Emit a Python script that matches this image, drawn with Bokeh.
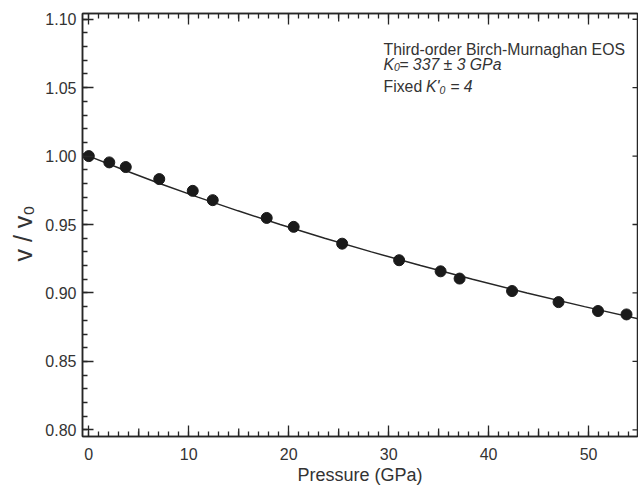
from bokeh.plotting import figure
from bokeh.models import LinearAxis, FixedTicker, Range1d, CustomJSTickFormatter, Title
from bokeh.core.properties import value
from bokeh.embed import file_html
from bokeh.resources import INLINE
import math

# measured data points
pressure = [0.0, 2.05, 3.7, 7.05, 10.4, 12.4, 17.8, 20.5, 25.35, 31.05, 35.2, 37.1, 42.35, 47.0, 50.95, 53.8]
volume = [1.000, 0.9954, 0.992, 0.9832, 0.9746, 0.9678, 0.9548, 0.9483, 0.936, 0.9239,
          0.9158, 0.9105, 0.9014, 0.8933, 0.8868, 0.8843]

# fitted Birch-Murnaghan curve
fit_pressure = [-0.63, 0.0, 3.46, 7.09, 10.91, 14.93, 19.15, 23.60, 28.28, 33.20, 38.39, 43.84, 49.60, 55.64]
fit_volume = [1.0019, 1.0, 0.99, 0.98, 0.97, 0.96, 0.95, 0.94, 0.93, 0.92, 0.91, 0.90, 0.89, 0.88]

# ticks
x_major = [0, 10, 20, 30, 40, 50]
x_medium = [5, 15, 25, 35, 45]
x_minor = list(range(0, 56))
y_major = [0.80, 0.85, 0.90, 0.95, 1.00, 1.05, 1.10]
y_minor = [0.80, 0.81, 0.82, 0.83, 0.84, 0.85, 0.86, 0.87, 0.88, 0.89, 0.90,
           0.91, 0.92, 0.93, 0.94, 0.95, 0.96, 0.97, 0.98, 0.99, 1.00,
           1.01, 1.02, 1.03, 1.04, 1.05, 1.06, 1.07, 1.08, 1.09, 1.10]

X0, X1 = -0.63, 54.9
Y0, Y1 = 0.7951, 1.1042

FONT = "Liberation Sans"
INK = "#262626"
TXT = "#333333"

p = figure(width=638, height=487, output_backend="svg", toolbar_location=None,
           x_range=Range1d(X0, X1), y_range=Range1d(Y0, Y1),
           min_border_left=82, min_border_right=1, min_border_top=13, min_border_bottom=50)
p.xgrid.visible = False
p.ygrid.visible = False
p.outline_line_color = INK
p.outline_line_width = 1.5
p.background_fill_color = "white"
p.border_fill_color = "white"


def style(ax, ticks, minors, tin, min_in, labels=True):
    ax.ticker = FixedTicker(ticks=ticks, minor_ticks=minors)
    ax.major_tick_in = tin
    ax.major_tick_out = 0
    ax.minor_tick_in = min_in
    ax.minor_tick_out = 0
    ax.axis_line_color = INK
    ax.axis_line_width = 1.5
    ax.major_tick_line_color = INK
    ax.major_tick_line_width = 1.3
    ax.minor_tick_line_color = INK
    ax.minor_tick_line_width = 1.3
    ax.major_label_text_font = FONT
    ax.major_label_text_font_size = "16px"
    ax.major_label_text_color = TXT
    if not labels:
        ax.formatter = CustomJSTickFormatter(code="return '';")
        ax.major_label_text_font_size = "0px"
        ax.major_label_standoff = 0
        ax.axis_label_standoff = 0


xa = p.xaxis[0]
style(xa, x_major, x_minor, 11, 5)
xa.major_label_standoff = 11
xa.axis_label = "Pressure (GPa)"
xa.axis_label_text_font = FONT
xa.axis_label_text_font_size = "18px"
xa.axis_label_text_font_style = "normal"
xa.axis_label_text_color = TXT
xa.axis_label_standoff = 2

ya = p.yaxis[0]
style(ya, y_major, y_minor, 11, 5)
ya.major_label_standoff = 6
ya.formatter = CustomJSTickFormatter(code="return tick.toFixed(2);")

# y-axis title as a side title, starting a little below the frame centre
p.add_layout(Title(text="v / v\u2080", align="left", offset=175, vertical_align="middle",
                   standoff=10, text_font=FONT, text_font_size="25px",
                   text_font_style="normal", text_color=TXT), "left")

top = LinearAxis()
style(top, x_major, x_minor, 11, 5, labels=False)
p.add_layout(top, "above")

# right-edge major ticks (inward) and medium ticks at the 5s on bottom/top edges
p.scatter(x=[X1] * len(y_major), y=y_major, marker="dash", angle=0,
          size=10, line_color=INK, line_width=1.3)
p.scatter(x=x_medium, y=[Y0] * len(x_medium), marker="dash", angle=math.pi / 2,
          size=16, line_color=INK, line_width=1.3)
p.scatter(x=x_medium, y=[Y1] * len(x_medium), marker="dash", angle=math.pi / 2,
          size=16, line_color=INK, line_width=1.3)

# fit line and data
p.line(fit_pressure, fit_volume, line_color=INK, line_width=1.5)
p.scatter(pressure, volume, size=11, fill_color="#1a1a1a", line_color="#1a1a1a")

# annotation
tx = 29.49
FS = "15.8px"
SUB = "10.5px"
p.text(x=[tx], y=[1.0776], text=["Third-order Birch-Murnaghan EOS"], text_font=value(FONT),
       text_font_size=FS, text_color=TXT, text_baseline="alphabetic")
p.text(x=[tx], y=[1.0666], text=["K"], text_font=value(FONT), text_font_style="italic",
       text_font_size=FS, text_color=TXT, text_baseline="alphabetic")
p.text(x=[tx], y=[1.0666], text=["0"], text_font=value(FONT), text_font_style="italic",
       text_font_size=SUB, text_color=TXT, text_baseline="alphabetic",
       x_offset=10.5, y_offset=2.5)
p.text(x=[tx], y=[1.0666], text=["= 337 \u00b1 3 GPa"], text_font=value(FONT), text_font_style="italic",
       text_font_size=FS, text_color=TXT, text_baseline="alphabetic", x_offset=15.7)
p.text(x=[tx], y=[1.0508], text=["Fixed"], text_font=value(FONT),
       text_font_size=FS, text_color=TXT, text_baseline="alphabetic")
p.text(x=[tx], y=[1.0508], text=["K'"], text_font=value(FONT), text_font_style="italic",
       text_font_size=FS, text_color=TXT, text_baseline="alphabetic", x_offset=42.5)
p.text(x=[tx], y=[1.0508], text=["0"], text_font=value(FONT), text_font_style="italic",
       text_font_size=SUB, text_color=TXT, text_baseline="alphabetic",
       x_offset=56.0, y_offset=3.3)
p.text(x=[tx], y=[1.0508], text=["= 4"], text_font=value(FONT), text_font_style="italic",
       text_font_size=FS, text_color=TXT, text_baseline="alphabetic", x_offset=66.7)

open("out.html", "w").write(file_html(p, INLINE))
